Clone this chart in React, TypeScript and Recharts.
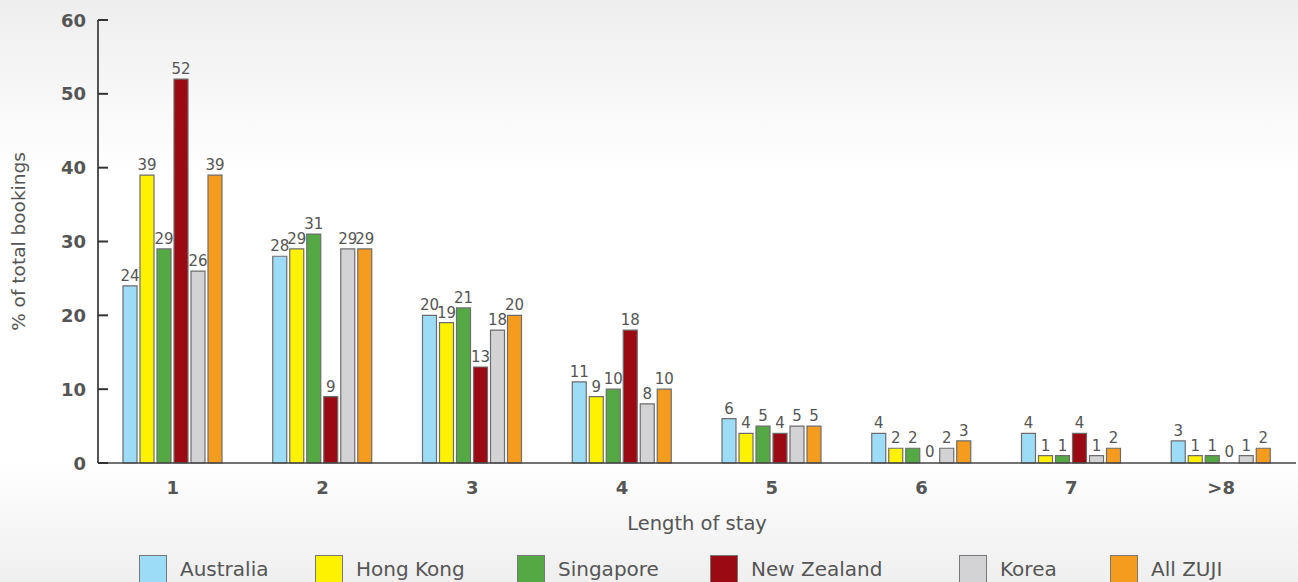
import { BarChart, Bar, XAxis, YAxis, LabelList, Rectangle } from "recharts";

const stays = ["1", "2", "3", "4", "5", "6", "7", ">8"];
const australia = [24, 28, 20, 11, 6, 4, 4, 3];
const hongKong = [39, 29, 19, 9, 4, 2, 1, 1];
const singapore = [29, 31, 21, 10, 5, 2, 1, 1];
const newZealand = [52, 9, 13, 18, 4, 0, 4, 0];
const korea = [26, 29, 18, 8, 5, 2, 1, 1];
const allZuji = [39, 29, 20, 10, 5, 3, 2, 2];
const yTicks = [0, 10, 20, 30, 40, 50, 60];

const SERIES = [
  { key: "australia", name: "Australia", color: "#9ddcf6", values: australia },
  { key: "hongKong", name: "Hong Kong", color: "#fff200", values: hongKong },
  { key: "singapore", name: "Singapore", color: "#55a944", values: singapore },
  { key: "newZealand", name: "New Zealand", color: "#9b0a12", values: newZealand },
  { key: "korea", name: "Korea", color: "#d3d3d5", values: korea },
  { key: "allZuji", name: "All ZUJI", color: "#f59c1f", values: allZuji },
];

const data = stays.map((stay, i) => {
  const row: Record<string, string | number> = { stay };
  SERIES.forEach((s) => {
    row[s.key] = s.values[i];
  });
  return row;
});

const FONT = "'DejaVu Sans', sans-serif";
const TEXT = "#555555";
const AXIS_X = 98;
// legend item left edges
const LEGEND_X = [139, 315, 517, 710, 959, 1110];

const YTick = (props: any) => {
  const { y, payload } = props;
  return (
    <g>
      <line x1={AXIS_X} x2={AXIS_X + 10} y1={y} y2={y} stroke="#333" strokeWidth={2} />
      <text
        x={AXIS_X - 12}
        y={y}
        textAnchor="end"
        dominantBaseline="central"
        fontFamily={FONT}
        fontWeight={700}
        fontSize={18}
        fill={TEXT}
      >
        {payload.value}
      </text>
    </g>
  );
};

const YTitle = (props: any) => {
  const { viewBox } = props;
  const cy = viewBox.y + viewBox.height / 2;
  return (
    <text
      x={18}
      y={cy}
      transform={`rotate(-90, 18, ${cy})`}
      textAnchor="middle"
      dominantBaseline="central"
      fontFamily={FONT}
      fontSize={18.5}
      fill={TEXT}
    >
      % of total bookings
    </text>
  );
};

// value label above each bar
const ValueLabel = (props: any) => {
  const { x, y, width, value } = props;
  if (value === undefined || value === null) return null;
  return (
    <text
      x={Number(x) + Number(width) / 2}
      y={Number(y) - 5}
      textAnchor="middle"
      fontFamily={FONT}
      fontSize={15}
      fill={TEXT}
    >
      {value}
    </text>
  );
};

// zero values keep a 1px slot (so they get a label) but draw no rectangle
const BarShape = (props: any) => {
  if (props.value === 0 || (Array.isArray(props.value) && props.value[1] === 0)) {
    return <g />;
  }
  return <Rectangle {...props} />;
};

export default function App() {
  return (
    <div
      style={{
        position: "fixed",
        left: 0,
        top: 0,
        width: 1298,
        height: 582,
        overflow: "hidden",
        background:
          "linear-gradient(to bottom, #eeeeee 0%, #ffffff 30%, #ffffff 79%, #efefef 100%)",
      }}
    >
      <BarChart
        width={1298}
        height={582}
        data={data}
        margin={{ top: 20, right: 2, left: 0, bottom: 49 }}
        barSize={14}
        barGap={3}
      >
        <XAxis
          dataKey="stay"
          height={70}
          axisLine={{ stroke: "#444", strokeWidth: 1.5 }}
          tickLine={false}
          tickSize={0}
          tickMargin={18}
          tick={{ fontFamily: FONT, fontWeight: 700, fontSize: 18, fill: TEXT }}
          label={{
            value: "Length of stay",
            position: "insideBottom",
            offset: 3,
            fontFamily: FONT,
            fontSize: 19.5,
            fill: TEXT,
          }}
        />
        <YAxis
          width={98}
          domain={[0, 60]}
          ticks={yTicks}
          interval={0}
          axisLine={{ stroke: "#555", strokeWidth: 2 }}
          tickLine={false}
          tick={<YTick />}
          label={<YTitle />}
        />
        {SERIES.map((s) => (
          <Bar
            key={s.key}
            dataKey={s.key}
            name={s.name}
            fill={s.color}
            stroke="#6d6d6d"
            strokeWidth={1.2}
            minPointSize={1}
            shape={<BarShape />}
            isAnimationActive={false}
          >
            <LabelList dataKey={s.key} content={<ValueLabel />} />
          </Bar>
        ))}
      </BarChart>
      {SERIES.map((s, i) => (
        <div
          key={s.key}
          style={{
            position: "absolute",
            left: LEGEND_X[i],
            top: 555,
            display: "flex",
            alignItems: "center",
            fontFamily: FONT,
            fontSize: 20,
            color: TEXT,
            whiteSpace: "nowrap",
          }}
        >
          <span
            style={{
              display: "inline-block",
              width: 26,
              height: 26,
              background: s.color,
              border: "1.5px solid #777",
              marginRight: 13,
            }}
          />
          <span style={{ lineHeight: "26px" }}>{s.name}</span>
        </div>
      ))}
    </div>
  );
}
